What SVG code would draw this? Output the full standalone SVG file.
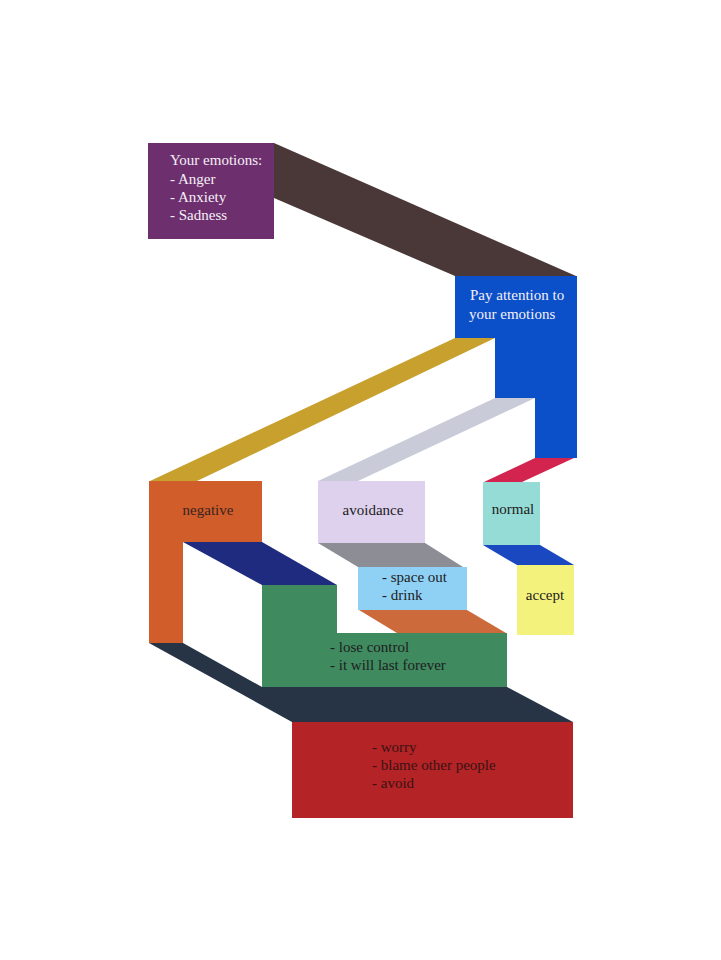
<svg xmlns="http://www.w3.org/2000/svg" width="721" height="960" viewBox="0 0 721 960">
<style>
  .t { font-family: "Liberation Serif", "DejaVu Serif", serif; font-size: 15px; }
  .w { fill: #f4f0f6; }
  .d { fill: #1e1c22; }
</style>
<rect width="721" height="960" fill="#ffffff"/>
<g id="connectors">
  <polygon points="274,143 576,276 455,276 274,198" fill="#4a3838"/>
  <polygon points="455,338 495,338 197,481 150,481" fill="#c8a02e"/>
  <polygon points="495,398 535,398 358,481 318,481" fill="#c9ccd8"/>
  <polygon points="535,458 574,458 522,482 484,482" fill="#d2244f"/>
  <polygon points="183,542 262,542 337,585 262,585" fill="#1f2b7e"/>
  <polygon points="318,543 425,543 463,567 358,567" fill="#8d8d95"/>
  <polygon points="359,610 467,610 506,633 397,633" fill="#cd6a3c"/>
  <polygon points="483,545 540,545 574,565 517,565" fill="#1a48c0"/>
  <polygon points="149,643 183,643 262,687 507,687 573,722 292,722" fill="#263446"/>
</g>
<g id="emotions">
  <rect x="148" y="143" width="126" height="96" fill="#6d2f6e"/>
  <text class="t w" x="170" y="165">Your emotions:</text>
  <text class="t w" x="170" y="183.5">- Anger</text>
  <text class="t w" x="170" y="202">- Anxiety</text>
  <text class="t w" x="170" y="220">- Sadness</text>
</g>
<g id="attention">
  <polygon points="455,276 577,276 577,458 535,458 535,398 495,398 495,338 455,338" fill="#0b4fc9"/>
  <text class="t w" x="470" y="300">Pay attention to</text>
  <text class="t w" x="469" y="318.5">your emotions</text>
</g>
<g id="negative">
  <polygon points="149,481 262,481 262,542 183,542 183,643 149,643" fill="#d05d2a"/>
  <text class="t" x="208" y="515" text-anchor="middle" fill="#3a2420">negative</text>
</g>
<g id="avoidance">
  <rect x="318" y="481" width="107" height="62" fill="#ddd1ee"/>
  <text class="t d" x="373" y="515" text-anchor="middle">avoidance</text>
</g>
<g id="normal">
  <rect x="483" y="482" width="57" height="63" fill="#95dcd6"/>
  <text class="t d" x="513" y="514" text-anchor="middle">normal</text>
</g>
<g id="spaceout">
  <rect x="358" y="567" width="109" height="43" fill="#8fd0f5"/>
  <text class="t d" x="382" y="582">- space out</text>
  <text class="t d" x="382" y="600">- drink</text>
</g>
<g id="accept">
  <rect x="517" y="565" width="57" height="70" fill="#f3f27c"/>
  <text class="t d" x="545" y="600" text-anchor="middle">accept</text>
</g>
<g id="losecontrol">
  <polygon points="262,585 337,585 337,633 507,633 507,687 262,687" fill="#3f8a5e"/>
  <text class="t d" x="330" y="652">- lose control</text>
  <text class="t d" x="330" y="670">- it will last forever</text>
</g>
<g id="worry">
  <rect x="292" y="722" width="281" height="96" fill="#b42325"/>
  <text class="t" x="372" y="752" fill="#3a1214">- worry</text>
  <text class="t" x="372" y="770" fill="#3a1214">- blame other people</text>
  <text class="t" x="372" y="788" fill="#3a1214">- avoid</text>
</g>
</svg>
